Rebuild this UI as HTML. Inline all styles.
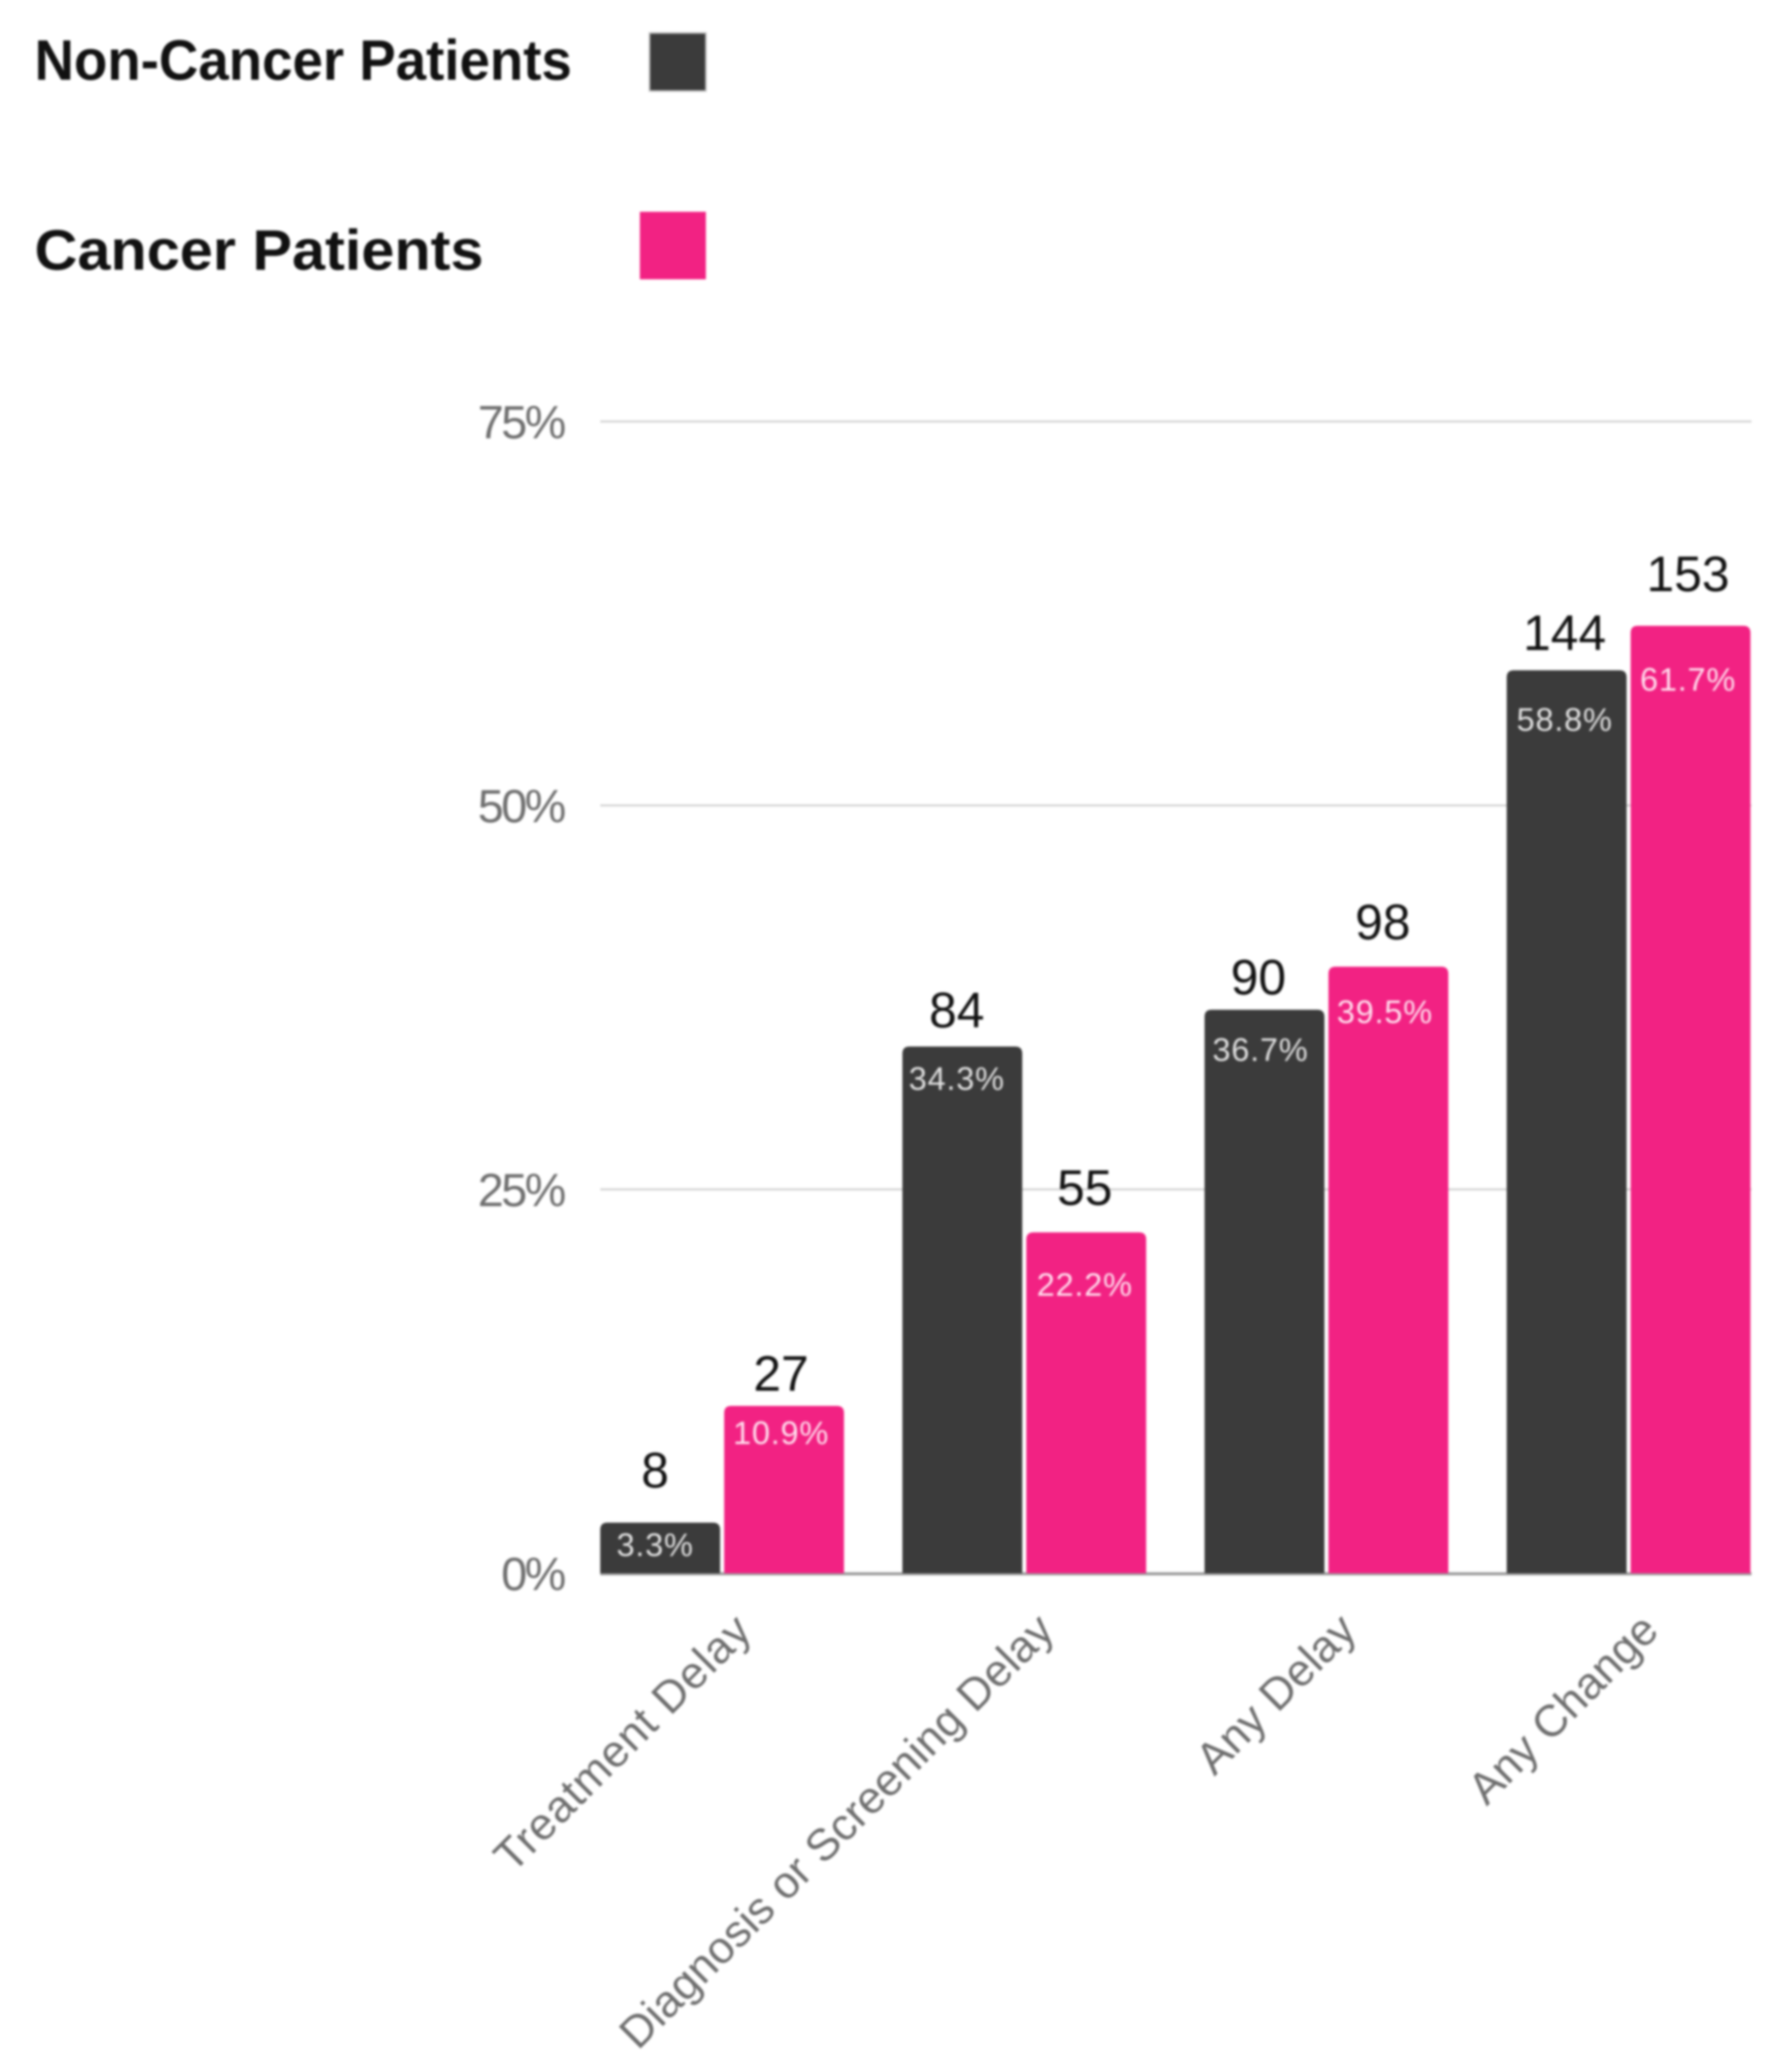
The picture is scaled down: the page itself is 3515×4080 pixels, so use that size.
<!DOCTYPE html>
<html>
<head>
<meta charset="utf-8">
<title>Delays in care: non-cancer and cancer patients</title>
<style>
html,body{margin:0;padding:0;background:#fff;width:3515px;height:4080px;overflow:hidden}
svg{display:block;filter:blur(2.5px)}
text{font-family:"Liberation Sans",sans-serif}
</style>
</head>
<body>
<svg id="chart" xmlns="http://www.w3.org/2000/svg" width="3515" height="4080" viewBox="0 0 3515 4080">
  <rect x="0" y="0" width="3515" height="4080" fill="#ffffff"/>
  <g>
    <text x="68" y="157" font-size="112" font-weight="bold" fill="#111" textLength="1058" lengthAdjust="spacingAndGlyphs">Non-Cancer Patients</text>
    <rect x="1279" y="65" width="111" height="114" fill="#3b3b3b" stroke="#bbb" stroke-width="3"/>
    <text x="68" y="531" font-size="112" font-weight="bold" fill="#111" textLength="884" lengthAdjust="spacingAndGlyphs">Cancer Patients</text>
    <rect x="1260" y="417" width="130" height="133" fill="#f22283"/>
  </g>
  <g id="grid"></g>
  <g id="yticks"></g>
  <g id="bars"></g>
  <g id="xticks"></g>
  <g id="labels"></g>
</svg>
<script>
const categories = ["Treatment Delay", "Diagnosis or Screening Delay", "Any Delay", "Any Change"];
const nonCancerPercent = [3.3, 34.3, 36.7, 58.8];
const cancerPercent = [10.9, 22.2, 39.5, 61.7];
const nonCancerCounts = [8, 84, 90, 144];
const cancerCounts = [27, 55, 98, 153];
const yTicks = [0, 25, 50, 75];

const NS = "http://www.w3.org/2000/svg";
const PLOT_LEFT = 1182, BAND_STEP = 595, BAR_W = 236, BAR_GAP = 8;
const Y_ZERO = 3098, Y_TOP = 830, Y_MAX = 75, PLOT_RIGHT = 3449;

function yScale(v) { return Y_ZERO - (v / Y_MAX) * (Y_ZERO - Y_TOP); }
function bandLeft(i) { return PLOT_LEFT + i * BAND_STEP; }
function barLeft(i, s) { return bandLeft(i) + s * (BAR_W + BAR_GAP); }
function svgEl(tag, parent, attrs) {
  const e = document.createElementNS(NS, tag);
  for (const k in attrs) e.setAttribute(k, attrs[k]);
  parent.appendChild(e);
  return e;
}
function barPath(x, y, w, r) {
  const rr = Math.min(r, Y_ZERO - y);
  return "M" + x + " " + Y_ZERO + "V" + (y + rr) + "Q" + x + " " + y + " " + (x + rr) + " " + y +
         "H" + (x + w - rr) + "Q" + (x + w) + " " + y + " " + (x + w) + " " + (y + rr) + "V" + Y_ZERO + "Z";
}

const gridG = document.getElementById("grid");
const yG = document.getElementById("yticks");
yTicks.forEach(function (t) {
  const line = svgEl("rect", gridG, { x: PLOT_LEFT, y: yScale(t) - 2, width: PLOT_RIGHT - PLOT_LEFT, height: t === 0 ? 6 : 4, fill: t === 0 ? "#9c9c9c" : "#d2d2d2" });
  
  
  const lab = svgEl("text", yG, { x: 1110, y: yScale(t) + 33, "text-anchor": "end", "font-size": 92, "letter-spacing": -5, fill: "#6e6e6e" });
  
  
  lab.textContent = t + "%";
});

const barsG = document.getElementById("bars");
const labelsG = document.getElementById("labels");
const seriesList = [
  { pct: nonCancerPercent, cnt: nonCancerCounts, fill: "#3b3b3b", pctFill: "#e2e2e2", s: 0 },
  { pct: cancerPercent, cnt: cancerCounts, fill: "#f22283", pctFill: "#ffe0ee", s: 1 }
];
/* hand-placed annotation nudges from the original figure, relative to each bar top and centre */
const countNudgeY = [[69, 38, 30, 40], [30, 54, 54, 68]];
const pctNudgeY = [[66, 85, 101, 119], [75, 125, 111, 128]];
const countNudgeX = [[-10, -11, -12, -4], [-6, -3, -11, -5]];
const pctNudgeX = [[-10, -11, -8, -4], [-6, -3, -7, -5]];

seriesList.forEach(function (ser) {
  ser.pct.forEach(function (v, i) {
    const x = barLeft(i, ser.s), top = yScale(v), center = x + BAR_W / 2;
    const bar = svgEl("path", barsG, { d: barPath(x, top, BAR_W, 14), fill: ser.fill });
    
    
    const c = svgEl("text", labelsG, { x: center + countNudgeX[ser.s][i], y: top - countNudgeY[ser.s][i], "text-anchor": "middle", "font-size": 98, fill: "#111" });
    
    
    c.textContent = ser.cnt[i];
    const p = svgEl("text", labelsG, { x: center + pctNudgeX[ser.s][i], y: top + pctNudgeY[ser.s][i], "text-anchor": "middle", "font-size": 64, "letter-spacing": 1.5, fill: ser.pctFill });
    
    
    p.textContent = v.toFixed(1) + "%";
  });
});

const xG = document.getElementById("xticks");
const xLabelSpacing = [1.7, 0.2, 0, 0];
categories.forEach(function (name, i) {
  const ax = bandLeft(i) + 303, ay = 3215;
  const t = svgEl("text", xG, { x: ax, y: ay, "text-anchor": "end", "font-size": 88, "letter-spacing": xLabelSpacing[i], fill: "#6e6e6e", transform: "rotate(-45 " + ax + " " + ay + ")" });
  
  
  t.textContent = name;
});
</script>
</body>
</html>
